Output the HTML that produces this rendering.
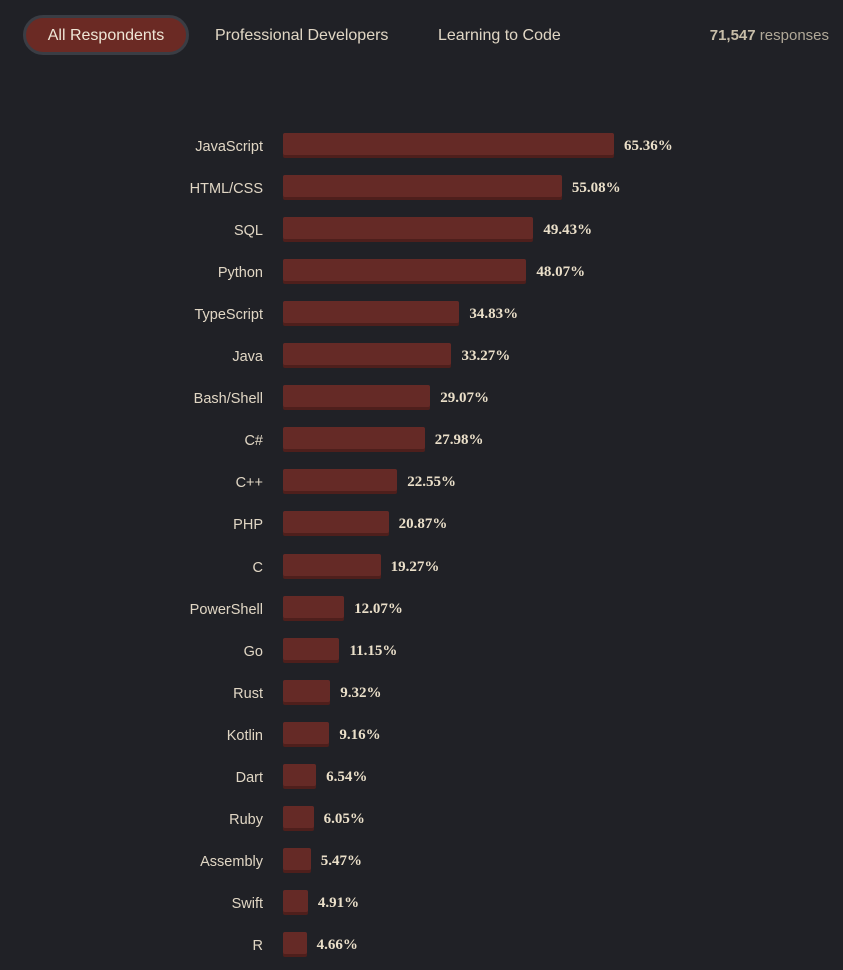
<!DOCTYPE html>
<html><head><style>
body{margin:0;width:843px;height:970px;background:#202126;font-family:"Liberation Sans",sans-serif;position:relative;overflow:hidden}
.t{position:absolute;color:#e0d6c4;font-size:16px;top:26px;line-height:20px}
.pill{position:absolute;left:23px;top:15px;width:160px;height:34px;background:#6b2a24;border:3px solid #3a3d44;border-radius:22px;color:#efe6d6;font-size:16px;text-align:center;line-height:36px}
.lab{position:absolute;right:580px;color:#e0d6c4;font-size:14.5px;line-height:18px}
.bar{position:absolute;left:283px;height:22px;background:#652a26;border-radius:2px;box-shadow:0 3px 0 #4e1f1c}
.val{position:absolute;color:#eadfc9;font-family:"Liberation Serif",serif;font-weight:bold;font-size:15px;line-height:18px}
</style></head><body>
<div class="pill">All Respondents</div>
<div class="t" style="left:215px">Professional Developers</div>
<div class="t" style="left:438px">Learning to Code</div>
<div class="t" style="right:14px;font-size:15px;color:#b0a898"><b style="color:#c8bea9">71,547</b> responses</div>
<div id="c"></div>
<script>
var d=[["JavaScript",65.36],["HTML/CSS",55.08],["SQL",49.43],["Python",48.07],["TypeScript",34.83],["Java",33.27],["Bash/Shell",29.07],["C#",27.98],["C++",22.55],["PHP",20.87],["C",19.27],["PowerShell",12.07],["Go",11.15],["Rust",9.32],["Kotlin",9.16],["Dart",6.54],["Ruby",6.05],["Assembly",5.47],["Swift",4.91],["R",4.66]];
var h="";d.forEach(function(r,i){var cy=145+i*42.05;var w=r[1]*5.064;
h+='<div class="lab" style="top:'+(cy-7)+'px">'+r[0]+'</div><div class="bar" style="top:'+(cy-12)+'px;width:'+w+'px"></div><div class="val" style="top:'+(cy-8)+'px;left:'+(283+w+10)+'px">'+r[1].toFixed(2)+'%</div>';});
document.getElementById("c").innerHTML=h;
</script>
</body></html>
